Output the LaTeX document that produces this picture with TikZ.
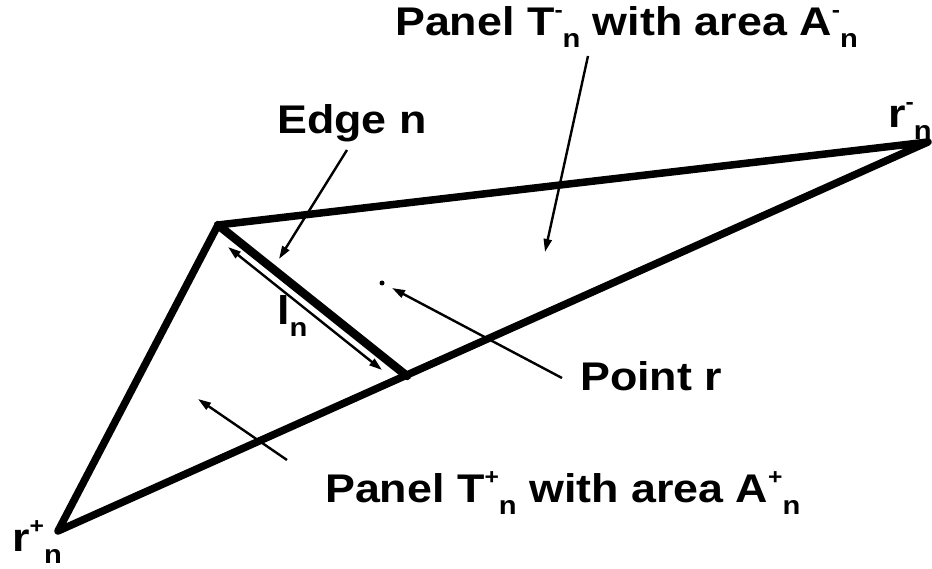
\documentclass[tikz,border=0pt]{standalone}
\usepackage{fontspec}
\setmainfont[FakeStretch=1.12]{Liberation Sans}
\usetikzlibrary{arrows.meta}
\newcommand{\supmark}[1]{\raisebox{0.45em}{\fontsize{22}{22}\selectfont #1}}
\newcommand{\submark}[1]{\raisebox{-0.3em}{\fontsize{26}{26}\selectfont #1}}

\begin{document}
\begin{tikzpicture}[x=1pt,y=-1pt,>={Triangle[length=13pt,width=8pt]},
  side/.style={line width=7.5pt,line cap=round,line join=round},
  pointer/.style={->,line width=2.4pt},
  lbl/.style={anchor=base west,inner sep=0pt,font=\fontsize{40}{44}\selectfont\bfseries}]
\useasboundingbox (0,0) rectangle (932,569);
% corners of the two panels
\coordinate (apex) at (218,225);
\coordinate (rminus) at (928,142);
\coordinate (rplus) at (58,531);
\coordinate (efoot) at (407,376);
\draw[side] (apex) -- (rminus) -- (rplus) -- cycle;
\draw[side,line width=8.5pt] (apex) -- (efoot);
% length of the edge
\coordinate (lstart) at (228,247);
\coordinate (lend) at (382,370);
\draw[<->,line width=2.4pt] (lstart) -- (lend);
% labels
\node[lbl] (tminus) at (395,36) {Panel T\supmark{-}\submark{n} with area A\supmark{-}\submark{n}};
\node[lbl] (edge) at (277,134) {Edge n};
\node[lbl] (ln) at (277,325) {l\submark{n}};
\node[lbl] (ptr) at (580,390) {Point r};
\node[lbl] (tplus) at (325,502) {Panel T\supmark{+}\submark{n} with area A\supmark{+}\submark{n}};
\node[lbl] (vplus) at (12,551) {r\supmark{+}\submark{n}};
\node[lbl] (vminus) at (888,128) {r\supmark{-}\submark{n}};
\node[circle,fill,inner sep=0pt,minimum size=5pt] (pt) at (382,283) {};
% pointers
\coordinate (tmtail) at (588,56);
\coordinate (tmtip) at (545,252);
\coordinate (edtail) at (347,150);
\coordinate (edtip) at (279,259);
\coordinate (prtail) at (562,378);
\coordinate (prtip) at (392,288);
\coordinate (tptail) at (287,460);
\coordinate (tptip) at (198,399);
\draw[pointer] (tmtail) -- (tmtip);
\draw[pointer] (edtail) -- (edtip);
\draw[pointer] (prtail) -- (prtip);
\draw[pointer] (tptail) -- (tptip);
\end{tikzpicture}
\end{document}
